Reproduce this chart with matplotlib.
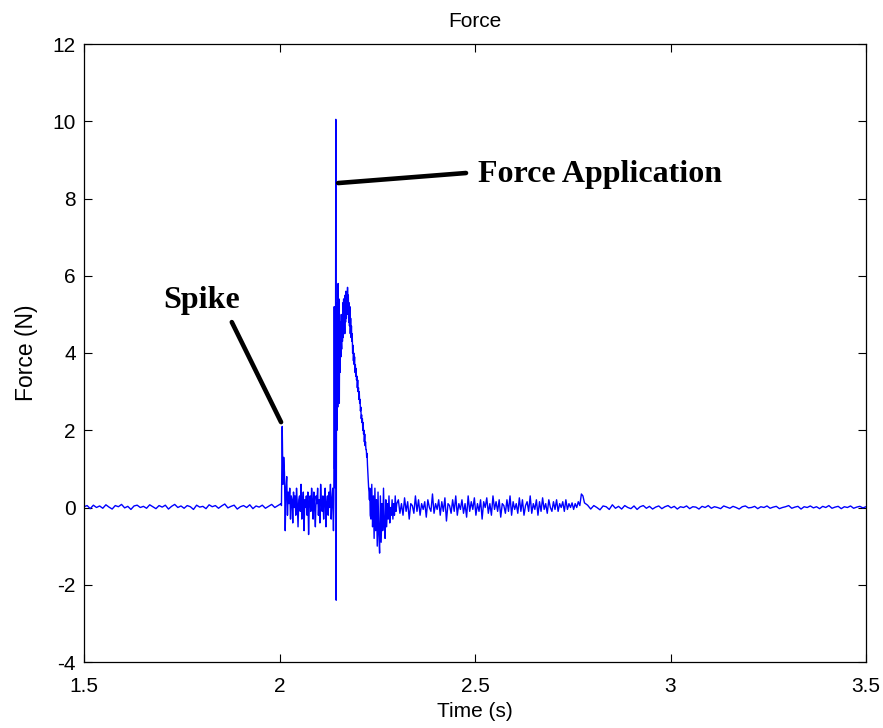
#!/usr/bin/env python3
"""Force vs time plot (MATLAB style) with Spike / Force Application notes."""

import matplotlib
matplotlib.use('Agg')
import matplotlib.pyplot as plt
import numpy as np

# Data, segment by segment (Force in N)
# each segment is sampled evenly between its start and end time (s)
quiet_start = [0.02, 0.05, -0.03, 0.06, 0.0, 0.04, -0.02, 0.07, 0.01, -0.04,
               0.05, 0.02, 0.08, -0.01, 0.03, -0.05, 0.04, 0.06, 0.0, 0.03,
               -0.02, 0.07, 0.02, -0.03, 0.05, 0.01, 0.06, -0.04, 0.03, 0.08,
               0.0, 0.04, -0.02, 0.05, 0.02, -0.05, 0.06, 0.01, 0.03, -0.03,
               0.07, 0.02, 0.05, -0.02, 0.04, 0.09, -0.01, 0.03, 0.06, -0.04,
               0.02, 0.05, 0.0, 0.07, -0.03, 0.04, 0.01, 0.06, -0.02, 0.03,
               0.08, 0.0, 0.05, 0.1]
spike = [0.05, 2.1, 0.6, 1.3, 0.9, -0.6, 0.5, 0.8, -0.2, 0.4,
         0.1, 0.5, -0.3, 0.3, 0.2, -0.4, 0.4, 0.0, 0.3, -0.2,
         0.5, 0.1, -0.5, 0.2, 0.3, -0.1, 0.6, -0.3, 0.1, 0.4,
         -0.6, 0.2, 0.0, 0.3, -0.2, 0.4, -0.7, 0.1, 0.3, -0.1,
         0.5, 0.2, -0.3, 0.4, 0.0, -0.5, 0.3, 0.1, 0.5, -0.2,
         0.2, -0.4, 0.6, 0.1, -0.1, 0.3, -0.3, 0.2, 0.5, -0.5,
         0.1, 0.3, -0.2, 0.4, 0.0, 0.6, -0.3, 0.2, 0.5, -0.6]
impact = [0.2, 5.2, 1.0, 4.8, 0.5, 10.05, -2.4, 4.6, 2.0, 5.3,
          2.6, 5.8, 3.1, 5.4, 2.7, 5.0, 3.5, 4.8, 3.9, 4.4,
          4.1, 5.0, 4.3, 5.3, 4.4, 5.4, 4.6, 5.2, 4.5, 5.5,
          4.8, 5.6, 4.9, 5.4, 5.0, 5.7, 5.0, 5.5, 4.8, 5.3,
          4.7, 5.2, 4.5, 4.9, 4.4, 4.7, 4.3, 4.5, 4.0, 4.2,
          3.8, 4.0, 3.7, 3.9, 3.5, 3.7, 3.4, 3.6, 3.3, 3.4,
          3.1, 3.3, 3.0, 3.1, 2.8, 3.0, 2.7, 2.8, 2.5, 2.6,
          2.3, 2.4, 2.2, 2.3, 2.0, 2.2, 1.9, 2.0, 1.7, 1.9,
          1.6, 1.7, 1.5, 1.5, 1.3, 1.4, 1.1, 0.9, 0.7, 0.5,
          0.4, 0.2, 0.5, -0.2]
rebound = [-0.3, 0.6, -0.5, 0.3, -0.8, 0.5, -0.6, 0.2, -1.0, 0.4,
           -0.7, -1.18, 0.3, -0.9, 0.1, -0.6, 0.5, -0.4, -0.8, 0.2,
           -0.5, 0.1, -0.3, 0.3, -0.4, 0.0, -0.2, 0.2, -0.3, 0.1,
           -0.2, 0.3, -0.1, 0.1]
settle = [0.2, -0.15, 0.1, -0.2, 0.25, -0.1, 0.15, -0.3, 0.1, 0.05,
          -0.15, 0.3, -0.1, 0.2, -0.2, 0.1, -0.05, 0.15, -0.25, 0.2,
          0.0, -0.1, 0.35, -0.15, 0.1, -0.05, 0.2, -0.2, 0.15, -0.1,
          0.25, -0.35, 0.1, 0.05, -0.15, 0.2, -0.1, 0.3, -0.2, 0.1,
          -0.05, 0.2, -0.15, 0.1, -0.25, 0.3, -0.1, 0.15, -0.05, 0.25,
          -0.2, 0.1, -0.1, 0.2, -0.3, 0.15, 0.0, 0.25, -0.15, 0.1,
          -0.2, 0.3, -0.05, 0.15, -0.1, 0.2, -0.25, 0.1, 0.05, -0.15,
          0.2, -0.1, 0.3, -0.2, 0.15, -0.05, 0.1, -0.15, 0.25, -0.1,
          0.2, -0.2, 0.05, 0.15, -0.1, 0.3, -0.15, 0.1, -0.05, 0.2,
          -0.2, 0.15, -0.1, 0.25, -0.05, 0.1, -0.15, 0.2, 0.0, -0.1,
          0.15, -0.05, 0.2, -0.1, 0.1, 0.0, 0.15, -0.1, 0.2, -0.05,
          0.1, 0.0, 0.12, -0.05, 0.1, 0.0, 0.15, 0.05, 0.35, 0.3,
          0.12]
quiet_end = [0.06, -0.04, 0.05, 0.0, -0.06, 0.04, 0.02, -0.05, 0.07, -0.02,
             0.03, -0.04, 0.05, 0.0, -0.03, 0.04, -0.05, 0.02, 0.05, -0.02,
             0.03, -0.04, 0.01, 0.04, -0.03, 0.02, 0.05, -0.01, 0.03, -0.04,
             0.02, 0.0, 0.04, -0.03, 0.02, 0.01, -0.04, 0.03, 0.0, 0.05,
             -0.02, 0.02, 0.0, -0.03, 0.04, 0.01, -0.02, 0.03, 0.0, -0.04,
             0.02, 0.04, -0.01, 0.0, 0.03, -0.03, 0.02, 0.0, 0.04, -0.02,
             0.01, 0.03, -0.03, 0.0, 0.02, 0.05, -0.02, 0.01, 0.03, -0.04,
             0.02, 0.0, 0.04, -0.01, 0.02, -0.03, 0.03, 0.0, 0.05, -0.02,
             0.01, 0.03, -0.03, 0.02, 0.0, 0.04, -0.02, 0.01, 0.03, -0.01,
             0.02]

segments = [
    (1.500, 2.004, quiet_start),
    (2.005, 2.138, spike),
    (2.139, 2.232, impact),
    (2.234, 2.300, rebound),
    (2.304, 2.780, settle),
    (2.788, 3.500, quiet_end),
]

time = np.concatenate([np.linspace(a, b, len(v)) for a, b, v in segments])
force = np.concatenate([np.array(v) for _, _, v in segments])

# annotation anchors (data coords)
spike_line = ([1.878, 2.004], [4.80, 2.21])
force_line = ([2.150, 2.477], [8.40, 8.66])

plt.rcParams.update({
    'font.family': 'Liberation Sans',
    'font.size': 15,
    'axes.unicode_minus': False,
})

fig = plt.figure(figsize=(8.83, 7.28), dpi=100)
ax = fig.add_axes([84 / 883, 1 - 662 / 728, 782 / 883, 618 / 728])

ax.plot(time, force, color='#0000ff', linewidth=1.0)

# notes
ax.plot(*spike_line, color='black', linewidth=3.3, solid_capstyle='round')
ax.plot(*force_line, color='black', linewidth=3.3, solid_capstyle='round')
ax.text(1.702, 5.37, 'Spike', family='Liberation Serif', fontsize=23,
        fontweight='bold', ha='left', va='center')
ax.text(2.508, 8.61, 'Force Application', family='Liberation Serif',
        fontsize=23, fontweight='bold', ha='left', va='center')

# axes, MATLAB look
ax.set_xlim(1.5, 3.5)
ax.set_ylim(-4, 12)
ax.set_xticks([1.5, 2, 2.5, 3, 3.5])
ax.set_xticklabels(['1.5', '2', '2.5', '3', '3.5'])
ax.set_yticks(np.arange(-4, 13, 2))
ax.tick_params(direction='in', length=6, width=0.8, top=True, right=True,
               labelsize=15)
ax.tick_params(axis='x', pad=11)
ax.tick_params(axis='y', pad=6)
for s in ax.spines.values():
    s.set_linewidth(0.9)

ax.set_title('Force', fontsize=15, pad=12)
ax.set_xlabel('Time (s)', fontsize=15, labelpad=4)
ax.set_ylabel('Force (N)', fontsize=16.5, labelpad=10)

fig.savefig('out.png', dpi=100)
plt.close(fig)
